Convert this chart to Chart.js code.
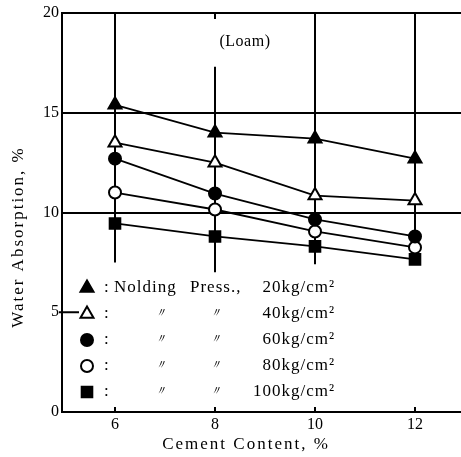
<!DOCTYPE html>
<html>
<head>
<meta charset="utf-8">
<script src="https://cdn.jsdelivr.net/npm/chart.js@4/dist/chart.umd.min.js"></script>
<style>
  html, body { margin: 0; padding: 0; background: #fff; }
  #wrap { width: 461px; height: 457px; }
</style>
</head>
<body>
<div id="wrap"><canvas id="c" width="461" height="457"></canvas></div>
<script>
// Cement content (%) on the x axis
const cementContent = [6, 8, 10, 12];
// Water absorption (%) for each molding pressure
const press20 = [15.4, 14.0, 13.7, 12.7];
const press40 = [13.5, 12.5, 10.85, 10.6];
const press60 = [12.7, 10.95, 9.65, 8.8];
const press80 = [11.0, 10.15, 9.05, 8.25];
const press100 = [9.45, 8.8, 8.3, 7.65];
// Molding pressures (kg/cm²)
const pressures = [20, 40, 60, 80, 100];
// Scatter range of each cement content
const rangeTop = [20, 17.3, 20, 20];
const rangeBottom = [7.5, 7.0, 7.4, 7.4];
// Axis ticks
const xTicks = [6, 8, 10, 12];
const yTicks = [0, 5, 10, 15, 20];

const SERIF = '"Liberation Serif", "DejaVu Serif", serif';

const seriesValues = [press20, press40, press60, press80, press100];
const markerStyle = [
  { pointStyle: 'triangle', filled: true, r: 7.5 },
  { pointStyle: 'triangle', filled: false, r: 7.5 },
  { pointStyle: 'circle', filled: true, r: 6 },
  { pointStyle: 'circle', filled: false, r: 6 },
  { pointStyle: 'rect', filled: true, r: 7.5 }
];

const datasets = [];
// vertical range bars
cementContent.forEach((x, i) => {
  datasets.push({
    data: [{ x: x, y: rangeTop[i] }, { x: x, y: rangeBottom[i] }],
    borderColor: '#000', borderWidth: 2, pointRadius: 0, order: 10
  });
});
// series lines with markers
seriesValues.forEach((vals, s) => {
  const m = markerStyle[s];
  datasets.push({
    label: pressures[s] + 'kg/cm²',
    data: cementContent.map((x, i) => ({ x: x, y: vals[i] })),
    borderColor: '#000', borderWidth: 1.8,
    pointStyle: m.pointStyle, pointRadius: m.r,
    pointBackgroundColor: m.filled ? '#000' : '#fff',
    pointBorderColor: '#000', pointBorderWidth: 2,
    order: 1
  });
});

function drawMarkerPath(ctx, m, x, y) {
  const r = m.r;
  if (m.pointStyle === 'circle') {
    ctx.arc(x, y, r, 0, Math.PI * 2);
  } else if (m.pointStyle === 'rect') {
    const s = r * Math.SQRT1_2;
    ctx.rect(x - s, y - s, 2 * s, 2 * s);
  } else {
    ctx.moveTo(x, y - r);
    ctx.lineTo(x + r * 0.866, y + r * 0.5);
    ctx.lineTo(x - r * 0.866, y + r * 0.5);
    ctx.closePath();
  }
}

// Axis titles, inner tick marks, annotation text and legend block
const decorations = {
  id: 'decorations',
  afterDraw(chart) {
    const ctx = chart.ctx;
    const xs = chart.scales.x, ys = chart.scales.y;
    const area = chart.chartArea;
    ctx.save();
    ctx.strokeStyle = '#000';
    ctx.fillStyle = '#000';
    ctx.lineWidth = 2;
    // small ticks along the bottom and top edges
    xTicks.forEach(v => {
      const px = xs.getPixelForValue(v);
      ctx.beginPath();
      ctx.moveTo(px, area.bottom); ctx.lineTo(px, area.bottom - 5);
      ctx.moveTo(px, area.top); ctx.lineTo(px, area.top + 6);
      ctx.stroke();
    });
    // tick at y = 5
    const y5 = ys.getPixelForValue(5);
    ctx.beginPath();
    ctx.moveTo(area.left - 3, y5); ctx.lineTo(area.left + 17, y5);
    ctx.stroke();

    // annotation
    ctx.font = '16px ' + SERIF;
    ctx.textAlign = 'center';
    ctx.textBaseline = 'middle';
    ctx.letterSpacing = '0.5px';
    ctx.fillText('(Loam)', 245, 42);

    // x axis title
    ctx.font = '17px ' + SERIF;
    ctx.letterSpacing = '2px';
    ctx.fillText('Cement Content, %', 246, 445);

    // y axis title
    ctx.save();
    ctx.translate(19, 237);
    ctx.rotate(-Math.PI / 2);
    ctx.fillText('Water Absorption, %', 0, 0);
    ctx.restore();

    // legend
    const rowY0 = 288, rowStep = 26;
    ctx.letterSpacing = '1px';
    pressures.forEach((p, i) => {
      const y = rowY0 + i * rowStep;
      const m = markerStyle[i];
      ctx.fillStyle = m.filled ? '#000' : '#fff';
      ctx.strokeStyle = '#000';
      ctx.lineWidth = 2;
      ctx.beginPath();
      drawMarkerPath(ctx, m, 87, y);
      ctx.fill(); ctx.stroke();
      ctx.fillStyle = '#000';
      ctx.font = '17px ' + SERIF;
      ctx.textAlign = 'left';
      ctx.fillText(':', 104, y);
      if (i === 0) {
        ctx.fillText('Nolding', 114, y);
        ctx.fillText('Press.,', 190, y);
      } else {
        ctx.font = 'italic 13px ' + SERIF;
        ctx.textAlign = 'center';
        ctx.fillText('〃', 161, y);
        ctx.fillText('〃', 216, y);
      }
      ctx.font = '17px ' + SERIF;
      ctx.textAlign = 'right';
      ctx.fillText(p + 'kg/cm²', 335, y);
    });
    ctx.restore();
  }
};

new Chart(document.getElementById('c'), {
  type: 'line',
  data: { datasets: datasets },
  options: {
    responsive: false,
    animation: false,
    layout: { autoPadding: false, padding: { top: 13, right: 0, left: 0, bottom: 0 } },
    plugins: { legend: { display: false }, tooltip: { enabled: false } },
    scales: {
      x: {
        type: 'linear', min: 4.94, max: 12.92,
        afterFit(scale) { scale.height = 45; scale.paddingLeft = 0; scale.paddingRight = 0; },
        afterBuildTicks(scale) { scale.ticks = xTicks.map(v => ({ value: v })); },
        grid: { display: false, drawTicks: false },
        border: { display: true, color: '#000', width: 2 },
        ticks: { color: '#000', font: { size: 16, family: SERIF }, padding: 3 }
      },
      y: {
        type: 'linear', min: 0, max: 20,
        afterFit(scale) { scale.width = 62; scale.paddingTop = 0; scale.paddingBottom = 0; },
        afterBuildTicks(scale) { scale.ticks = yTicks.map(v => ({ value: v })); },
        grid: {
          drawTicks: false,
          lineWidth: 2,
          color: ctx => (ctx.tick && ctx.tick.value >= 10) ? '#000' : 'rgba(0,0,0,0)'
        },
        border: { display: true, color: '#000', width: 2 },
        ticks: { color: '#000', font: { size: 16, family: SERIF }, padding: 3 }
      }
    }
  },
  plugins: [decorations]
});
</script>
</body>
</html>
